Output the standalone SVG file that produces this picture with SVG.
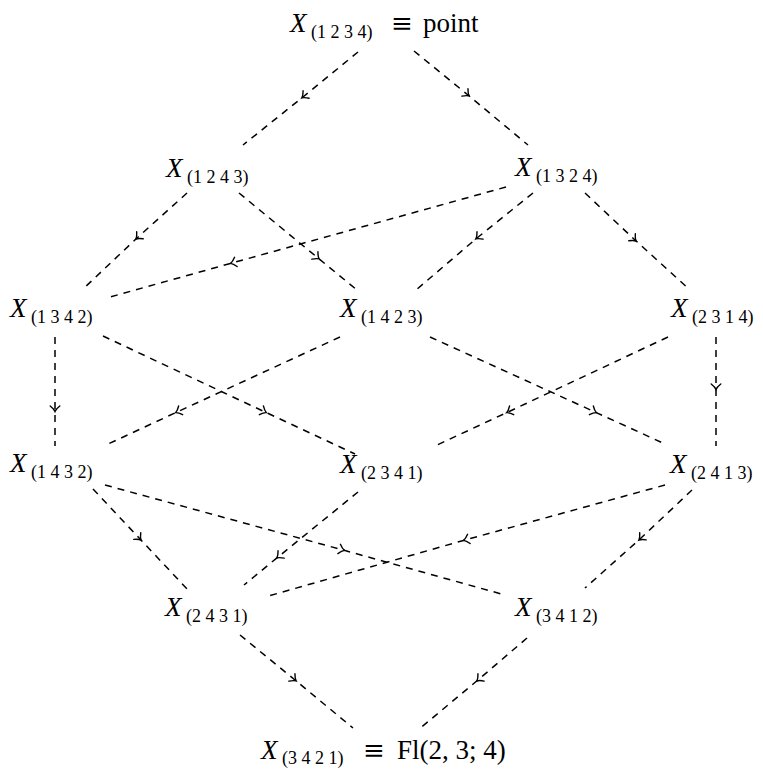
<svg xmlns="http://www.w3.org/2000/svg" width="763" height="769" viewBox="0 0 763 769">
<style>
  text { font-family: "Liberation Serif", "DejaVu Serif", serif; fill: #000; }
  .x { font-size: 27px; font-style: italic; }
  .sub { font-size: 18px; font-style: normal; }
  .rm { font-size: 27px; }
  .eq { font-size: 26px; font-family: "DejaVu Serif", "Liberation Serif", serif; }
  .edge { fill: none; stroke: #000; stroke-width: 1.5; stroke-dasharray: 7 6; marker-mid: url(#mk); }
</style>
<defs>
  <marker id="mk" markerUnits="userSpaceOnUse" orient="auto" markerWidth="14" markerHeight="14" viewBox="-7 -7 14 14" refX="0" refY="0" overflow="visible">
    <path d="M -4,-4.8 Q -1,-1 1.5,0 Q -1,1 -4,4.8" fill="none" stroke="#000" stroke-width="1.4" stroke-dasharray="none" stroke-linecap="round"/>
  </marker>
</defs>
<g id="connectors">
  <path class="edge" d="M358,52 L303,97 L243,145"/>
  <path class="edge" d="M414,51 L468,95 L528,145"/>
  <path class="edge" d="M187,193 L137,238 L82,290"/>
  <path class="edge" d="M239,193 L318,258 L357,290"/>
  <path class="edge" d="M506,187 L232,263 L110,297"/>
  <path class="edge" d="M533,193 L477,238 L416,290"/>
  <path class="edge" d="M585,193 L635,240 L690,290"/>
  <path class="edge" d="M55,337 L55,410 L55,446"/>
  <path class="edge" d="M103,336 L265,412 L355,454"/>
  <path class="edge" d="M340,337 L177,412 L106,445"/>
  <path class="edge" d="M430,337 L595,412 L665,444"/>
  <path class="edge" d="M668,337 L508,412 L435,446"/>
  <path class="edge" d="M716,337 L716,388 L716,446"/>
  <path class="edge" d="M93,489 L140,539 L188,590"/>
  <path class="edge" d="M105,485 L343,550 L505,595"/>
  <path class="edge" d="M358,492 L278,557 L244,585"/>
  <path class="edge" d="M665,485 L465,540 L265,597"/>
  <path class="edge" d="M692,490 L640,539 L585,588"/>
  <path class="edge" d="M240,635 L295,680 L353,728"/>
  <path class="edge" d="M527,638 L478,680 L418,730"/>
</g>
<g id="n1234">
  <text x="290" y="32" class="x">X</text>
  <text x="311" y="38" class="sub">(1 2 3 4)</text>
  <text x="391" y="32" class="eq">≡</text>
  <text x="423" y="32" class="rm">point</text>
</g>
<g id="n1243">
  <text x="166" y="177" class="x">X</text>
  <text x="187" y="183" class="sub">(1 2 4 3)</text>
</g>
<g id="n1324">
  <text x="515" y="176" class="x">X</text>
  <text x="536" y="182" class="sub">(1 3 2 4)</text>
</g>
<g id="n1342">
  <text x="10" y="317" class="x">X</text>
  <text x="31" y="323" class="sub">(1 3 4 2)</text>
</g>
<g id="n1423">
  <text x="340" y="317" class="x">X</text>
  <text x="361" y="323" class="sub">(1 4 2 3)</text>
</g>
<g id="n2314">
  <text x="671" y="317" class="x">X</text>
  <text x="692" y="323" class="sub">(2 3 1 4)</text>
</g>
<g id="n1432">
  <text x="10" y="472" class="x">X</text>
  <text x="31" y="478" class="sub">(1 4 3 2)</text>
</g>
<g id="n2341">
  <text x="340" y="473" class="x">X</text>
  <text x="361" y="479" class="sub">(2 3 4 1)</text>
</g>
<g id="n2413">
  <text x="670" y="473" class="x">X</text>
  <text x="691" y="479" class="sub">(2 4 1 3)</text>
</g>
<g id="n2431">
  <text x="165" y="616" class="x">X</text>
  <text x="186" y="622" class="sub">(2 4 3 1)</text>
</g>
<g id="n3412">
  <text x="515" y="616" class="x">X</text>
  <text x="536" y="622" class="sub">(3 4 1 2)</text>
</g>
<g id="n3421">
  <text x="261" y="759" class="x">X</text>
  <text x="282" y="764" class="sub">(3 4 2 1)</text>
  <text x="363" y="759" class="eq">≡</text>
  <text x="397" y="759" class="rm">Fl(2, 3; 4)</text>
</g>
</svg>
